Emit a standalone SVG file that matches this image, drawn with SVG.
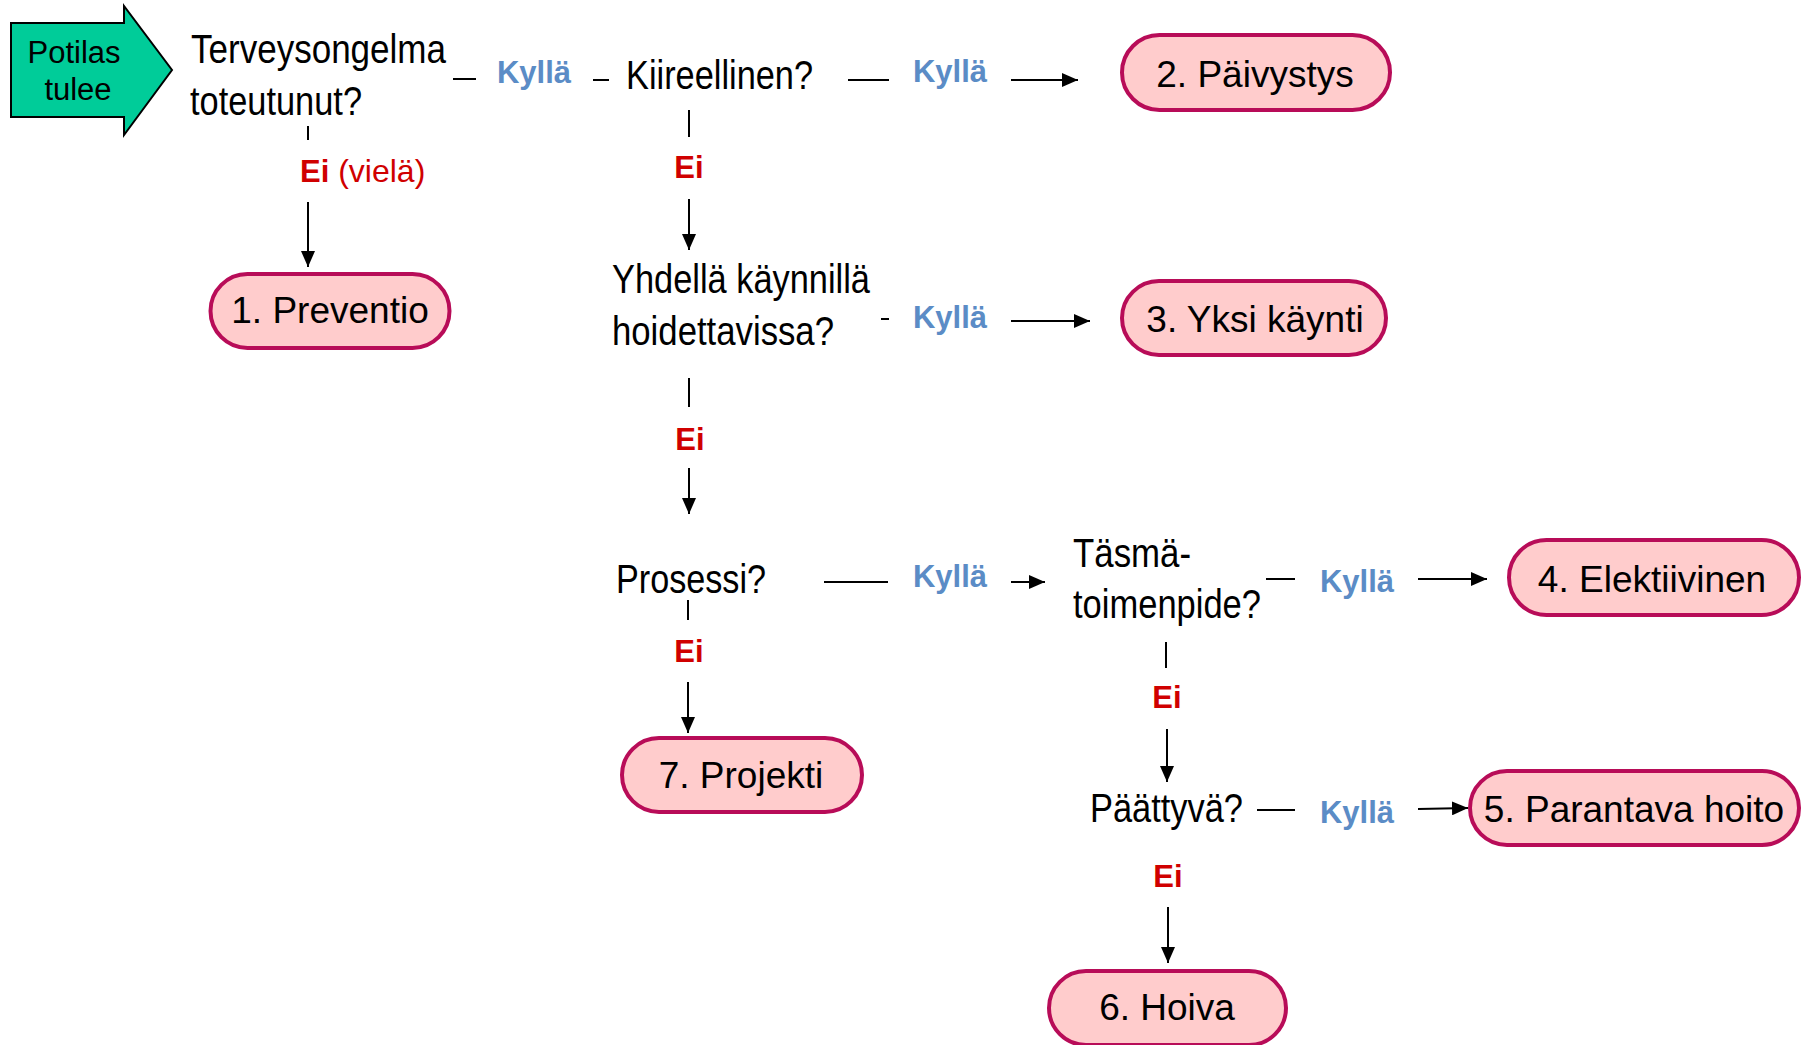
<svg xmlns="http://www.w3.org/2000/svg" width="1812" height="1045" viewBox="0 0 1812 1045">
<defs>
<marker id="ah" viewBox="0 0 16 14" refX="16" refY="7" markerWidth="16" markerHeight="14" markerUnits="userSpaceOnUse" orient="auto">
<path d="M0,0 L16,7 L0,14 z" fill="#000"/>
</marker>
<style>
.q{font-family:"Liberation Sans",Arial,sans-serif;font-size:40px;fill:#000}
.nl{font-family:"Liberation Sans",Arial,sans-serif;font-size:37px;fill:#000;text-anchor:middle}
.y{font-family:"Liberation Sans",Arial,sans-serif;font-size:31px;font-weight:bold;fill:#5B8CC6;text-anchor:middle}
.n{font-family:"Liberation Sans",Arial,sans-serif;font-size:31px;font-weight:bold;fill:#D00000;text-anchor:middle}
.pill{fill:#FFCCCC;stroke:#B80C58;stroke-width:4}
.c line{stroke:#000;stroke-width:2}
.a{marker-end:url(#ah)}
</style>
</defs>
<rect width="1812" height="1045" fill="#fff"/>

<g id="start">
<polygon points="11,23 124,23 124,6 172,70 124,135 124,117 11,117" fill="#00CC99" stroke="#000" stroke-width="2"/>
<text x="74" y="63" font-family="Liberation Sans,Arial,sans-serif" font-size="31" text-anchor="middle">Potilas</text>
<text x="78" y="100" font-family="Liberation Sans,Arial,sans-serif" font-size="31" text-anchor="middle">tulee</text>
</g>

<g id="q1">
<text class="q" x="191" y="63" textLength="255" lengthAdjust="spacingAndGlyphs">Terveysongelma</text>
<text class="q" x="190" y="115" textLength="172" lengthAdjust="spacingAndGlyphs">toteutunut?</text>
</g>
<g id="q2">
<text class="q" x="626" y="89" textLength="187" lengthAdjust="spacingAndGlyphs">Kiireellinen?</text>
</g>
<g id="q3">
<text class="q" x="612" y="293" textLength="258" lengthAdjust="spacingAndGlyphs">Yhdellä käynnillä</text>
<text class="q" x="612" y="345" textLength="222" lengthAdjust="spacingAndGlyphs">hoidettavissa?</text>
</g>
<g id="q4">
<text class="q" x="616" y="593" textLength="150" lengthAdjust="spacingAndGlyphs">Prosessi?</text>
</g>
<g id="q5">
<text class="q" x="1073" y="567" textLength="118" lengthAdjust="spacingAndGlyphs">Täsmä-</text>
<text class="q" x="1073" y="618" textLength="188" lengthAdjust="spacingAndGlyphs">toimenpide?</text>
</g>
<g id="q6">
<text class="q" x="1090" y="822" textLength="153" lengthAdjust="spacingAndGlyphs">Päättyvä?</text>
</g>

<g id="n1"><rect class="pill" x="210.5" y="274" width="239" height="74" rx="37"/><text class="nl" x="330" y="323">1. Preventio</text></g>
<g id="n2"><rect class="pill" x="1122" y="35" width="268" height="75" rx="37.5"/><text class="nl" x="1255" y="87">2. Päivystys</text></g>
<g id="n3"><rect class="pill" x="1122" y="281" width="264" height="74" rx="37"/><text class="nl" x="1255" y="332">3. Yksi käynti</text></g>
<g id="n4"><rect class="pill" x="1509" y="540" width="290" height="75" rx="37.5"/><text class="nl" x="1652" y="592">4. Elektiivinen</text></g>
<g id="n5"><rect class="pill" x="1470" y="771" width="329" height="74" rx="37"/><text class="nl" x="1634" y="822">5. Parantava hoito</text></g>
<g id="n6"><rect class="pill" x="1049" y="971" width="237" height="74" rx="37"/><text class="nl" x="1167" y="1020">6. Hoiva</text></g>
<g id="n7"><rect class="pill" x="622" y="738" width="240" height="74" rx="37"/><text class="nl" x="741" y="788">7. Projekti</text></g>

<g id="connectors" class="c">
<line x1="453" y1="79" x2="476" y2="79"/>
<line x1="593" y1="80" x2="609" y2="80"/>
<line x1="848" y1="80" x2="889" y2="80"/>
<line class="a" x1="1011" y1="80" x2="1078" y2="80"/>
<line x1="308" y1="126" x2="308" y2="140"/>
<line class="a" x1="308" y1="202" x2="308" y2="267"/>
<line x1="689" y1="110" x2="689" y2="137"/>
<line class="a" x1="689" y1="199" x2="689" y2="250"/>
<line x1="881" y1="319" x2="889" y2="319"/>
<line class="a" x1="1011" y1="321" x2="1090" y2="321"/>
<line x1="689" y1="378" x2="689" y2="407"/>
<line class="a" x1="689" y1="468" x2="689" y2="514"/>
<line x1="824" y1="582" x2="888" y2="582"/>
<line class="a" x1="1011" y1="582" x2="1045" y2="582"/>
<line x1="688" y1="600" x2="688" y2="620"/>
<line class="a" x1="688" y1="682" x2="688" y2="733"/>
<line x1="1266" y1="579" x2="1295" y2="579"/>
<line class="a" x1="1418" y1="579" x2="1487" y2="579"/>
<line x1="1166" y1="642" x2="1166" y2="668"/>
<line class="a" x1="1167" y1="729" x2="1167" y2="782"/>
<line x1="1257" y1="810" x2="1295" y2="810"/>
<line class="a" x1="1418" y1="809" x2="1468" y2="808"/>
<line class="a" x1="1168" y1="907" x2="1168" y2="963"/>
</g>

<g id="labels">
<text class="y" x="534" y="83">Kyllä</text>
<text class="y" x="950" y="82">Kyllä</text>
<text class="y" x="950" y="328">Kyllä</text>
<text class="y" x="950" y="587">Kyllä</text>
<text class="y" x="1357" y="592">Kyllä</text>
<text class="y" x="1357" y="823">Kyllä</text>
<text font-family="Liberation Sans,Arial,sans-serif" font-size="32" fill="#D00000" x="300" y="182"><tspan font-weight="bold" font-size="31">Ei</tspan> (vielä)</text>
<text class="n" x="689" y="178">Ei</text>
<text class="n" x="690" y="450">Ei</text>
<text class="n" x="689" y="662">Ei</text>
<text class="n" x="1167" y="708">Ei</text>
<text class="n" x="1168" y="887">Ei</text>
</g>
</svg>
